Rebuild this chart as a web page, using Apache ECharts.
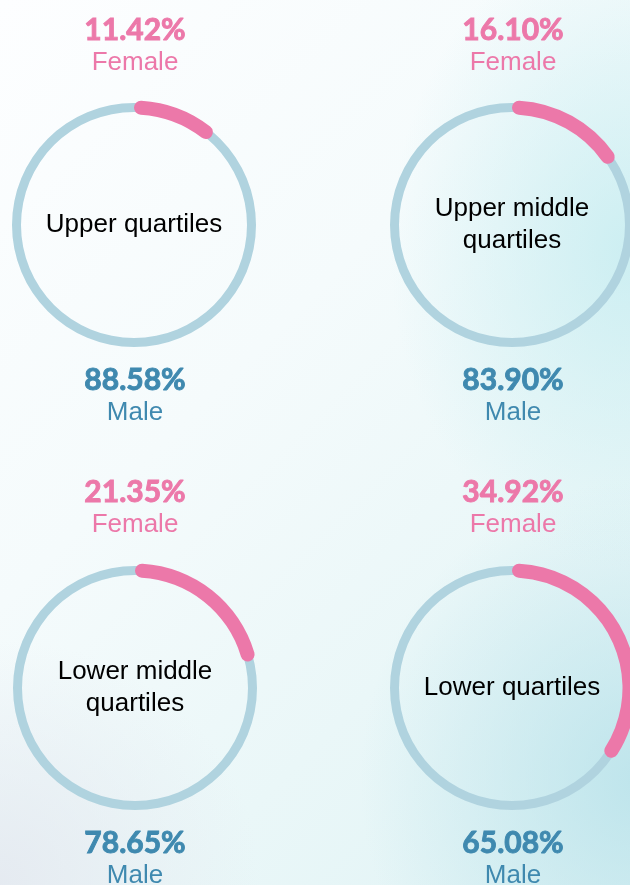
<!DOCTYPE html>
<html lang="en">
<head>
    <meta charset="utf-8">
    <title>Quartiles by gender</title>
    <style>
        html, body { margin: 0; padding: 0; }
        body {
            width: 630px; height: 885px; overflow: hidden;
            background:
                radial-gradient(ellipse 240px 320px at 630px 250px, rgba(196, 236, 240, 0.8), rgba(196, 236, 240, 0) 100%),
                radial-gradient(ellipse 280px 300px at 640px 780px, rgba(184, 226, 234, 0.85), rgba(184, 226, 234, 0) 100%),
                radial-gradient(ellipse 260px 240px at 0px 880px, rgba(228, 233, 240, 0.9), rgba(228, 233, 240, 0) 100%),
                linear-gradient(135deg, #fdfeff 0%, #f5fbfc 40%, #eaf7f8 70%, #e0f3f5 100%);
        }
        #main { width: 630px; height: 885px; }
    </style>
</head>
<body>
<div id="main"></div>

<script src="https://cdn.jsdelivr.net/npm/echarts@6/dist/echarts.min.js"></script>
<script type="text/javascript">
    // data
    var groups = ['Upper quartiles', 'Upper middle\nquartiles', 'Lower middle\nquartiles', 'Lower quartiles'];
    var female = [11.42, 16.10, 21.35, 34.92];
    var male = [88.58, 83.90, 78.65, 65.08];

    var centers = [[134, 225], [512, 225], [135, 688], [512, 688]];
    var textX = [135, 513, 135, 513];
    var topY = [30, 30, 492, 492];
    var bottomY = [380, 380, 843, 843];

    var pink = '#ec78a9';
    var ring = '#b0d3df';
    var blue = '#3f89af';

    var series = [];
    var graphics = [];

    function pctText(x, y, txt, color) {
        return {type: 'text', x: x, y: y, style: {
            text: txt, align: 'center', verticalAlign: 'middle',
            fill: color, stroke: color, lineWidth: 0.9,
            font: 'bold 30px Lato, sans-serif'}};
    }

    function wordText(x, y, txt, color) {
        return {type: 'text', x: x, y: y, style: {
            text: txt, align: 'center', verticalAlign: 'middle',
            fill: color, font: '26px "Liberation Sans", Arial, sans-serif'}};
    }

    for (var i = 0; i < groups.length; i++) {
        // thin full ring behind
        series.push({
            name: groups[i],
            type: 'pie',
            center: centers[i],
            radius: [113, 122],
            silent: true,
            animation: false,
            label: {
                show: true,
                position: 'center',
                formatter: '{b}',
                color: '#000',
                fontSize: 26,
                lineHeight: 32,
                fontFamily: 'Liberation Sans, Arial, sans-serif',
                padding: [0, 0, 6, 0]
            },
            labelLine: {show: false},
            itemStyle: {color: ring},
            data: [{name: groups[i], value: female[i] + male[i]}]
        });
        // female arc on top
        series.push({
            name: groups[i] + ' split',
            type: 'pie',
            center: centers[i],
            radius: [110.5, 124.5],
            startAngle: 90,
            clockwise: true,
            silent: true,
            animation: false,
            label: {show: false},
            labelLine: {show: false},
            data: [
                {name: 'Female', value: female[i], itemStyle: {color: pink, borderRadius: 7}},
                {name: 'Male', value: male[i], itemStyle: {color: 'transparent'}}
            ]
        });

        graphics.push(
            pctText(textX[i], topY[i], female[i].toFixed(2) + '%', pink),
            wordText(textX[i], topY[i] + 33, 'Female', pink),
            pctText(textX[i], bottomY[i], male[i].toFixed(2) + '%', blue),
            wordText(textX[i], bottomY[i] + 33, 'Male', blue)
        );
    }

    var myChart = echarts.init(document.getElementById('main'));
    myChart.setOption({
        backgroundColor: 'transparent',
        series: series,
        graphic: graphics
    });
</script>
</body>
</html>
